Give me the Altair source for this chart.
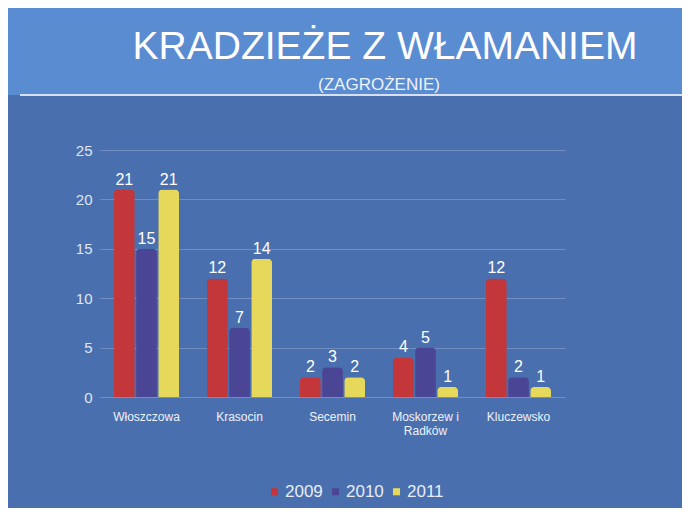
import altair as alt
import pandas as pd

title_text = "KRADZIEŻE Z WŁAMANIEM"
subtitle_text = "(ZAGROŻENIE)"
categories = ["Włoszczowa", "Krasocin", "Secemin", "Moskorzew i Radków", "Kluczewsko"]
years = ["2009", "2010", "2011"]
v2009 = [21, 12, 2, 4, 12]
v2010 = [15, 7, 3, 5, 2]
v2011 = [21, 14, 2, 1, 1]
colors = ["#c3363a", "#4b4596", "#e6d85a"]

rows = []
for i, c in enumerate(categories):
    for y, vals in zip(years, [v2009, v2010, v2011]):
        rows.append({"gmina": c, "rok": y, "wartosc": vals[i]})
df = pd.DataFrame(rows)

W, H = 465, 247
PL, PT = 92, 142
TOTAL_W, TOTAL_H = 674, 500

bg_body = "#4a6fae"
bg_head = "#5a8cd2"

one = pd.DataFrame({"a": [0]})

header = alt.Chart(one).mark_rect(color=bg_head).encode(
    x=alt.value(-PL), x2=alt.value(TOTAL_W - PL),
    y=alt.value(-PT), y2=alt.value(-55)
)
headline = alt.Chart(one).mark_rule(color="#d8e0ee", strokeWidth=2).encode(
    x=alt.value(-PL + 12), x2=alt.value(TOTAL_W - PL),
    y=alt.value(-55)
)
title_mark = alt.Chart(pd.DataFrame({"t": [title_text]})).mark_text(
    color="#ffffff", fontSize=39, font="Liberation Sans", align="center", baseline="middle"
).encode(x=alt.value(285), y=alt.value(-103), text="t:N")
subtitle_mark = alt.Chart(pd.DataFrame({"t": [subtitle_text]})).mark_text(
    color="#eef2fa", fontSize=17, font="Liberation Sans", align="center", baseline="middle"
).encode(x=alt.value(279), y=alt.value(-65), text="t:N")

base = alt.Chart(df).encode(
    x=alt.X("gmina:N", sort=categories, title=None,
            scale=alt.Scale(paddingInner=0.3, paddingOuter=0.15),
            axis=alt.Axis(labelAngle=0, labelColor="#eef2fa", labelFontSize=12,
                          labelFont="Liberation Sans", labelPadding=14, ticks=False,
                          domain=False, labelLimit=200,
                          labelExpr="datum.label == 'Moskorzew i Radków' ? ['Moskorzew i', 'Radków'] : datum.label")),
    xOffset=alt.XOffset("rok:N", sort=years, scale=alt.Scale(paddingInner=0.06)),
)

bars = base.mark_bar(cornerRadiusTopLeft=4, cornerRadiusTopRight=4).encode(
    y=alt.Y("wartosc:Q", title=None, scale=alt.Scale(domain=[0, 25], nice=False),
            axis=alt.Axis(values=[0, 5, 10, 15, 20, 25], labelColor="#dfe6f3",
                          labelFontSize=15, labelFont="Liberation Sans",
                          gridColor="#8ea3cc", gridOpacity=0.6, domain=False,
                          ticks=False, labelPadding=8)),
    color=alt.Color("rok:N", sort=years, scale=alt.Scale(domain=years, range=colors),
                    legend=alt.Legend(title=None, orient="none", direction="horizontal",
                                      legendX=166, legendY=333, symbolType="square",
                                      symbolSize=50, labelFontSize=17, labelColor="#e8edf7",
                                      labelFont="Liberation Sans", columnPadding=4,
                                      labelOffset=2, symbolStrokeWidth=0)),
)

labels = base.mark_text(dy=-10, color="#ffffff", fontSize=16, font="Liberation Sans").encode(
    y=alt.Y("wartosc:Q"),
    text=alt.Text("wartosc:Q"),
)

chart = alt.layer(header, headline, title_mark, subtitle_mark, bars, labels).properties(
    width=W, height=H,
    background=bg_body,
    padding={"left": PL, "top": PT, "right": TOTAL_W - PL - W, "bottom": TOTAL_H - PT - H},
    autosize=alt.AutoSizeParams(type="none"),
).configure_view(stroke=None)

chart.save("out.html", embed_options={"renderer": "svg", "actions": False})
